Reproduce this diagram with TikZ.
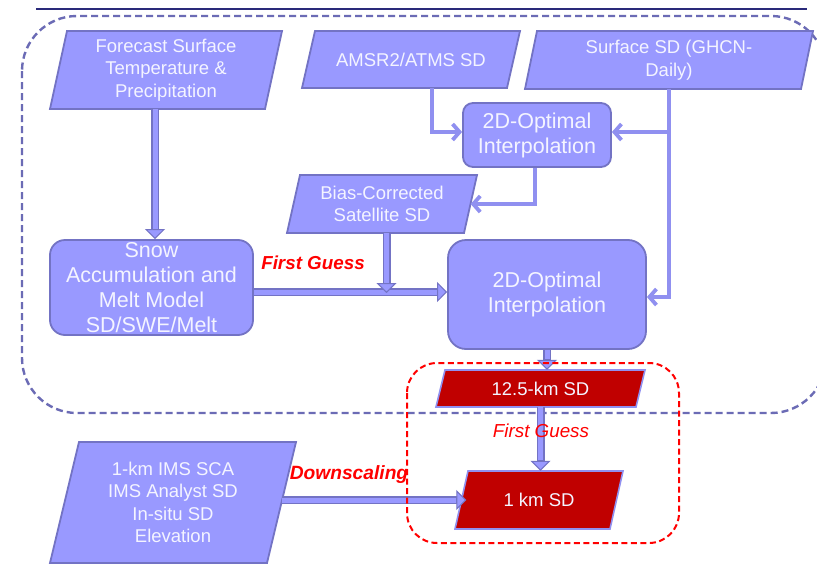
\documentclass[tikz,border=0pt]{standalone}
\usepackage{fontspec}
\setmainfont{Liberation Sans}
\usetikzlibrary{arrows.meta}
\definecolor{lt}{HTML}{9999FF}
\definecolor{dk}{HTML}{7373C4}
\definecolor{ln}{HTML}{9090F0}
\definecolor{dred}{HTML}{C00000}
\definecolor{dashblue}{HTML}{6B6BB5}
\definecolor{navy}{HTML}{2A2A7A}
\definecolor{txtc}{HTML}{F4F4FF}
\definecolor{lab}{HTML}{FF0000}
\tikzset{
  pfill/.style={fill=lt, draw=dk, line width=1.8pt},
  rfill/.style={fill=dred, draw=ln, line width=1.6pt},
  boxtext/.style={text=txtc, align=center, inner sep=0pt, font=\fontsize{18.5}{22.5}\selectfont},
  rbox/.style={fill=lt, draw=dk, line width=1.8pt, text=txtc, align=center, inner sep=0pt, font=\fontsize{21.5}{25}\selectfont},
  thickarr/.style={line width=8pt, draw=dk, -{Triangle[length=10pt,width=20pt,line width=1pt,fill=lt]},
     postaction={draw=lt, line width=5pt, -, shorten >=10.5pt}},
  thinarr/.style={line width=3.8pt, draw=ln, -{Straight Barb[length=7pt,width=16pt]}},
  labtext/.style={text=lab, inner sep=0pt, font=\fontsize{18.8}{20}\selectfont\bfseries\itshape},
}
\newcommand{\pbox}[8]{%
  \draw[#7] (#2,#4) -- (#3,#4) -- ({#3-#6},#5) -- ({#2-#6},#5) -- cycle;
  \node[boxtext, minimum width={#3-#2}, minimum height={#5-#4}] (#1) at ({(#2+#3-#6)/2},{(#4+#5)/2}) {#8};
}
\begin{document}
\begin{tikzpicture}[x=1pt,y=-1pt]
\useasboundingbox (0,0) rectangle (817,565);
\clip (0,0) rectangle (817,565);
\fill[white] (0,0) rectangle (817,565);
% top rule
\draw[navy, line width=1.5pt] (36,9) -- (807,9);
% outer dashed region
\draw[dashblue, line width=2.4pt, dash pattern=on 7pt off 4pt, rounded corners=55pt] (22,16) rectangle (826,413);
% boxes
\pbox{fc}{67}{282}{31}{109}{17}{pfill}{Forecast Surface\\Temperature \&\\Precipitation}
\pbox{amsr}{315}{520}{31}{88}{13}{pfill}{AMSR2/ATMS SD}
\pbox{ghcn}{537}{813}{31}{89}{12}{pfill}{Surface SD (GHCN-\\Daily)}
\pbox{bias}{300}{477}{175}{233}{13}{pfill}{Bias-Corrected\\Satellite SD}
\pbox{ims}{79}{296}{442}{563}{29}{pfill}{1-km IMS SCA\\IMS Analyst\ SD\\In-situ SD\\Elevation}
\pbox{rA}{445}{645}{370}{407}{9}{rfill}{12.5-km SD}
\pbox{rB}{468}{623}{471}{529}{13}{rfill}{1 km SD}
\node[rbox, rounded corners=10pt, minimum width=148pt, minimum height=64pt] (oiA) at (537,135) {2D-Optimal\\Interpolation};
\node[rbox, rounded corners=18pt, minimum width=198pt, minimum height=109pt] (oiB) at (547,294.5) {2D-Optimal\\Interpolation};
\node[rbox, rounded corners=15pt, minimum width=203pt, minimum height=95pt] (snow) at (151.5,287.5) {Snow\\Accumulation and\\Melt Model\\SD/SWE/Melt};
% thin connectors
\draw[thinarr] ([xshift=21pt]amsr.south) |- ([yshift=3pt]oiA.west);
\coordinate (jn) at ([yshift=3pt]ghcn.south |- oiA.east);
\draw[thinarr] (ghcn.south) -- (jn) -- ([yshift=3pt]oiA.east);
\draw[thinarr] (jn) |- ([yshift=-2.5pt]oiB.east);
\draw[thinarr] ([xshift=-2pt]oiA.south) |- (bias.east);
% thick connectors
\coordinate (fg) at ([yshift=-4.5pt]snow.east);
\draw[thickarr] ([xshift=-11pt]fc.south) -- ([xshift=-11pt]fc.south |- snow.north);
\draw[thickarr] (fg) -- (fg -| oiB.west);
\draw[thickarr] ([xshift=4.5pt]bias.south) -- ([xshift=4.5pt,yshift=-1pt]bias.south |- fg);
\draw[thickarr] (oiB.south) -- (oiB.south |- rA.north);
\draw[thickarr] (rA.south) -- (rA.south |- rB.north);
\draw[thickarr] (ims.east |- rB.west) -- ([xshift=5pt]rB.west);
% red dashed region
\draw[lab, line width=2pt, dash pattern=on 6pt off 3.5pt, rounded corners=30pt] (407,363) rectangle (679,543);
% labels
\node[labtext] (lfg) at (313,263) {First Guess};
\node[labtext, font=\fontsize{19.2}{20}\selectfont\bfseries\itshape] (ldown) at (349,475) {Downscaling};
\node[labtext, font=\fontsize{18.8}{20}\selectfont\itshape] (lfg2) at (541,431) {First Guess};
\end{tikzpicture}
\end{document}
